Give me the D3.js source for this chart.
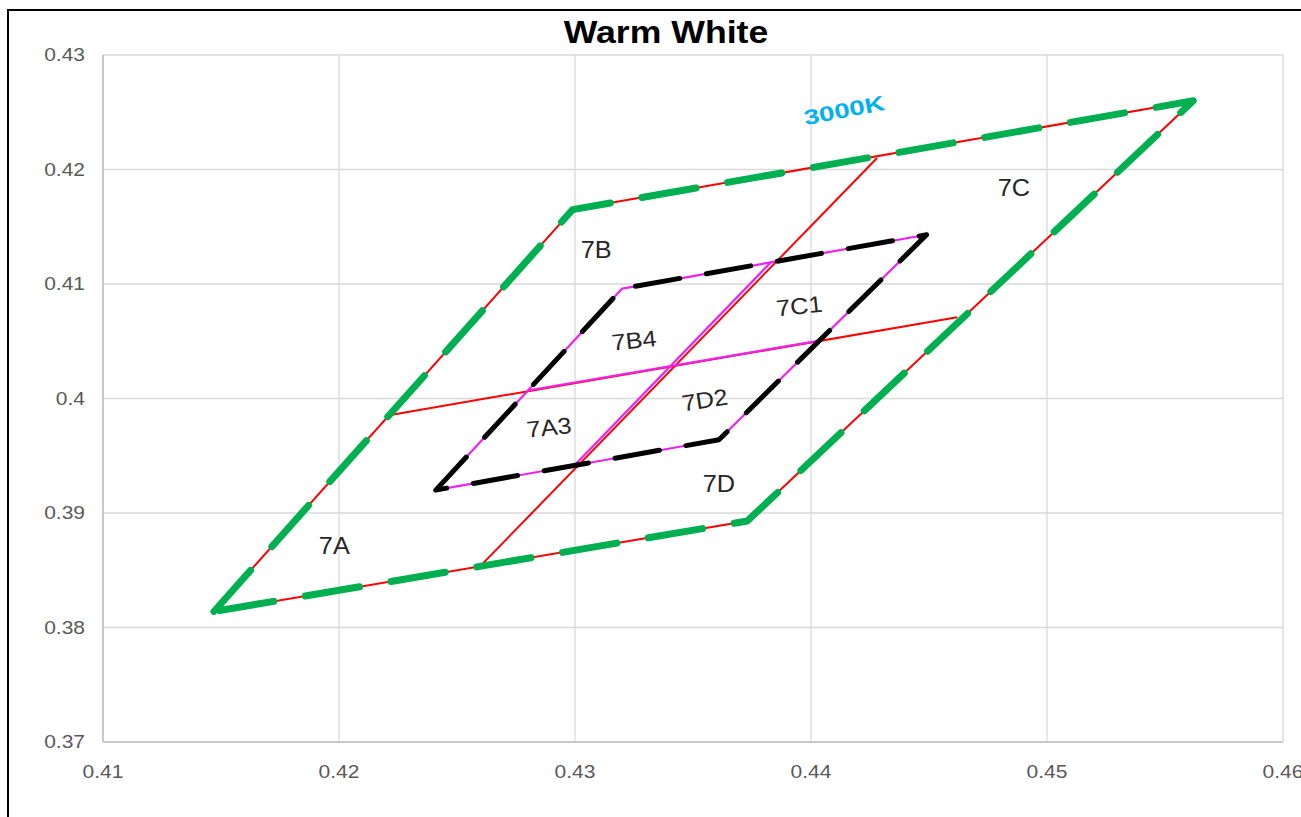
<!DOCTYPE html>
<html>
<head>
<meta charset="utf-8">
<script src="https://cdn.jsdelivr.net/npm/d3@7"></script>
<style>
  body { margin: 0; background: #fff; }
  text { font-family: "Liberation Sans", Arial, sans-serif; }
</style>
</head>
<body>
<svg></svg>
<script>
// ticks
var xTicks = [0.41, 0.42, 0.43, 0.44, 0.45, 0.46];
var yTicks = [0.37, 0.38, 0.39, 0.40, 0.41, 0.42, 0.43];

// 3000K quadrangle (outer) and its split lines
var outerX = [0.4147, 0.4299, 0.4562, 0.4373, 0.4147];
var outerY = [0.3814, 0.4165, 0.4260, 0.3893, 0.3814];
var splitAX = [0.4220, 0.4462];
var splitAY = [0.3985, 0.4071];
var splitBX = [0.4261, 0.4428];
var splitBY = [0.3856, 0.4210];

// inner quadrangle and its split lines
var innerX = [0.4241, 0.4320, 0.4449, 0.4361, 0.4241];
var innerY = [0.3920, 0.4096, 0.4143, 0.3964, 0.3920];
var innerAX = [0.4280, 0.4405];
var innerAY = [0.4007, 0.4051];
var innerBX = [0.4299, 0.4383];
var innerBY = [0.3940, 0.4119];

// bin labels
var labels  = ['7A', '7B', '7C', '7D', '7A3', '7B4', '7C1', '7D2'];
var labelX  = [0.4198, 0.4309, 0.4486, 0.4361, 0.4289, 0.4325, 0.4395, 0.4355];
var labelY  = [0.3871, 0.4130, 0.4184, 0.3926, 0.3975, 0.4051, 0.4081, 0.3999];
var labelRot = [0, 0, 0, 0, -6, -6, -6, -9];

var cctName = '3000K';
var cctX = 0.4414, cctY = 0.4252;

var margins = { top: 55, left: 103, right: 18, bottom: 75 };
var svgwidth = 1301, svgheight = 817;
var width = svgwidth - margins.left - margins.right;
var height = svgheight - margins.top - margins.bottom;

var svg = d3.select('svg').attr('width', svgwidth).attr('height', svgheight);

// outer frame
svg.append('rect')
  .attr('x', 8).attr('y', 10)
  .attr('width', 1400).attr('height', 900)
  .attr('fill', 'none').attr('stroke', '#000').attr('stroke-width', 2);

var x = d3.scaleLinear().domain([0.41, 0.46]).range([0, width]);
var y = d3.scaleLinear().domain([0.37, 0.43]).range([height, 0]);

var plot = svg.append('g').attr('transform', 'translate(' + margins.left + ',' + margins.top + ')');

// grid
plot.selectAll('.vgrid').data(xTicks).enter().append('line')
  .attr('x1', function(d){ return x(d); }).attr('x2', function(d){ return x(d); })
  .attr('y1', 0).attr('y2', height)
  .attr('stroke', '#d9d9d9').attr('stroke-width', 1.3);
plot.selectAll('.hgrid').data(yTicks).enter().append('line')
  .attr('x1', 0).attr('x2', width)
  .attr('y1', function(d){ return y(d); }).attr('y2', function(d){ return y(d); })
  .attr('stroke', '#d9d9d9').attr('stroke-width', 1.3);
plot.append('line').attr('x1', 0).attr('x2', width).attr('y1', height).attr('y2', height)
  .attr('stroke', '#bfbfbf').attr('stroke-width', 1.5);
plot.append('line').attr('x1', 0).attr('x2', 0).attr('y1', 0).attr('y2', height)
  .attr('stroke', '#bfbfbf').attr('stroke-width', 1.5);

// tick labels
plot.selectAll('.ylab').data(yTicks).enter().append('text')
  .attr('transform', function(d){ return 'translate(-18,' + (y(d) + 6) + ') scale(1.2,1)'; })
  .attr('text-anchor', 'end')
  .attr('font-size', 17.5).attr('fill', '#595959')
  .text(function(d){ return d3.format('.2~f')(d); });
plot.selectAll('.xlab').data(xTicks).enter().append('text')
  .attr('transform', function(d){ return 'translate(' + x(d) + ',' + (height + 36) + ') scale(1.2,1)'; })
  .attr('text-anchor', 'middle')
  .attr('font-size', 17.5).attr('fill', '#595959')
  .text(function(d){ return d3.format('.2~f')(d); });

var line = d3.line()
  .x(function(d){ return x(d[0]); })
  .y(function(d){ return y(d[1]); });

function pts(xs, ys){ return xs.map(function(v, i){ return [v, ys[i]]; }); }

// solid red lines under the dashes
[pts(outerX, outerY), pts(splitAX, splitAY), pts(splitBX, splitBY)].forEach(function(p){
  plot.append('path').attr('d', line(p))
    .attr('fill', 'none').attr('stroke', '#ff0000').attr('stroke-width', 2)
    .attr('stroke-linejoin', 'round');
});
// magenta solid lines
[pts(innerX, innerY), pts(innerAX, innerAY), pts(innerBX, innerBY)].forEach(function(p){
  plot.append('path').attr('d', line(p))
    .attr('fill', 'none').attr('stroke', '#ee22ee').attr('stroke-width', 2.2)
    .attr('stroke-linejoin', 'round');
});

// green dashed 3000K outline
plot.append('path').attr('d', line(pts(outerX, outerY)))
  .attr('fill', 'none').attr('stroke', '#00b050').attr('stroke-width', 7)
  .attr('stroke-dasharray', '55 32').attr('stroke-linecap', 'round')
  .attr('stroke-linejoin', 'round');

// black dashed inner outline
plot.append('path').attr('d', line(pts(innerX, innerY)))
  .attr('fill', 'none').attr('stroke', '#000').attr('stroke-width', 5)
  .attr('stroke-dasharray', '45 27').attr('stroke-linecap', 'round')
  .attr('stroke-linejoin', 'round');

// bin labels
plot.selectAll('.bin').data(labels).enter().append('text')
  .attr('transform', function(d, i){
    return 'translate(' + x(labelX[i]) + ',' + y(labelY[i]) + ') rotate(' + labelRot[i] + ') scale(1.1,1)';
  })
  .attr('text-anchor', 'middle').attr('dy', '0.36em')
  .attr('font-size', 23).attr('fill', '#262626')
  .text(function(d){ return d; });

plot.append('text')
  .attr('transform', 'translate(' + x(cctX) + ',' + y(cctY) + ') rotate(-11) scale(1.32,1)')
  .attr('text-anchor', 'middle').attr('dy', '0.36em')
  .attr('font-size', 21).attr('font-weight', 'bold').attr('fill', '#00b0f0')
  .text(cctName);

// title
svg.append('text')
  .attr('transform', 'translate(666,43) scale(1.15,1)')
  .attr('text-anchor', 'middle')
  .attr('font-size', 31).attr('font-weight', 'bold').attr('fill', '#000')
  .text('Warm White');
</script>
</body>
</html>
